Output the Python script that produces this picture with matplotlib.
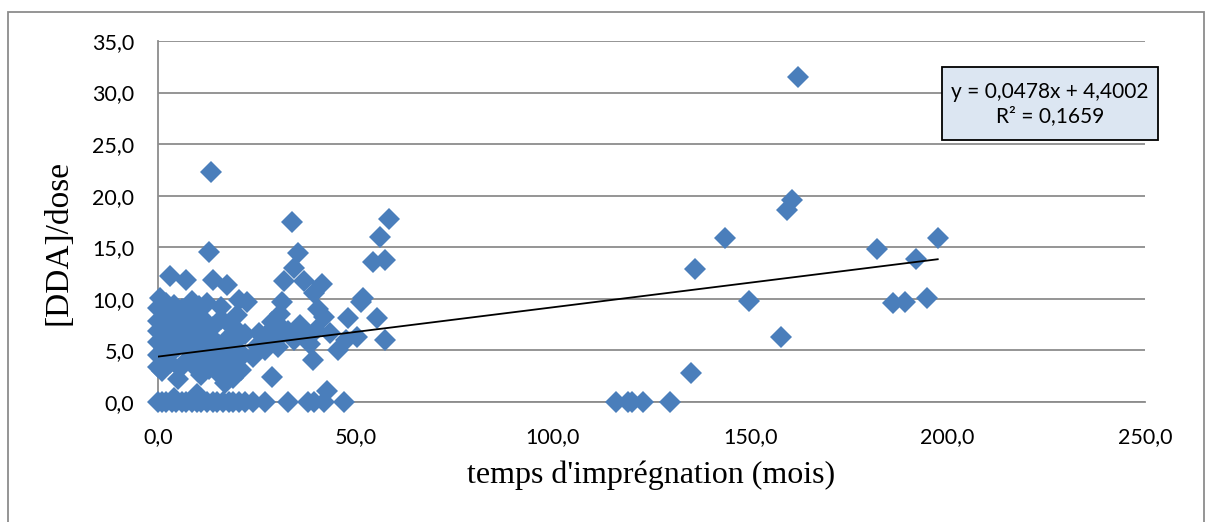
import matplotlib.pyplot as plt
import numpy as np
from matplotlib.patches import Rectangle

# temps d'imprégnation (mois) et [DDA]/dose
temps_mois = [
    0, 1, 2, 3.5, 4.5, 6, 7, 8.5, 10, 11, 12.5, 14, 15, 16.5, 18, 19, 20.5, 22, 24, 27,
    33, 38, 39.5, 42, 47, 42.8, 10, 4,
    0, 0, 0, 0, 0, 0, 0.5,
    1, 1.5, 1.5, 1.5, 1.5, 2, 3,
    3, 3.5, 3.5, 3, 3.5, 4,
    5, 5.5, 5, 5.5, 5.5, 6, 7,
    7, 7.5, 7.5, 8, 8, 8.5,
    9, 9.5, 9.5, 10, 10, 10.5,
    11, 11.5, 11.5, 12, 12, 12.5,
    13, 13.5, 14, 14, 14, 13, 13.5,
    15, 15.5, 15.5, 16, 16,
    17, 17.5, 17.5, 18, 18, 17.5,
    19, 19.5, 19.5, 20, 20, 20.5,
    21, 21.5, 22, 22.5,
    24, 25, 25.5,
    27, 28, 28.5, 29, 29,
    30.5, 31, 31.5, 31, 31.5, 32, 34.5, 34, 35.5,
    33, 34.5, 36, 37, 39.5, 41.5, 40.5, 42, 48, 55.5,
    43.5, 50.5, 57.5, 47.5, 45.5, 39.3,
    52, 51.5, 54.5, 57.5, 56.3, 58.6,
    37, 38.5, 40,
    162.2, 160.6, 159.2, 143.6, 136.0, 149.8, 157.9, 134.9,
    115.9, 119.1, 120.1, 122.9, 129.6,
    182.0, 192.1, 197.5, 186.1, 189.1, 194.7,
]
dda_dose = [
    0, 0, 0, 0, 0, 0, 0, 0, 0, 0, 0, 0, 0, 0, 0, 0, 0, 0, 0, 0,
    0, 0, 0, 0, 0, 1.1, 0.8, 0.4,
    3.4, 4.6, 5.8, 6.9, 7.9, 9.1, 10.1,
    3.0, 5.2, 6.4, 7.4, 8.6, 9.6, 12.2,
    3.8, 4.8, 6.0, 7.2, 8.3, 9.4,
    2.2, 3.3, 5.4, 6.6, 7.7, 9.0, 11.8,
    4.0, 5.1, 6.3, 7.4, 8.7, 9.8,
    3.5, 4.6, 5.8, 7.0, 8.1, 9.3,
    2.6, 4.2, 5.6, 6.8, 7.9, 9.6,
    3.2, 4.8, 6.1, 7.3, 11.8, 14.5, 22.3,
    2.9, 4.3, 5.5, 8.0, 9.2,
    1.8, 3.6, 5.1, 6.3, 7.6, 11.3,
    2.3, 4.0, 5.8, 7.0, 8.4, 9.9,
    3.1, 4.6, 6.6, 9.7,
    4.4, 5.4, 6.7,
    5.0, 6.1, 7.0, 7.8, 2.4,
    5.3, 6.4, 7.2, 8.5, 9.7, 11.7, 13.0, 17.5, 14.4,
    6.9, 6.0, 7.5, 11.7, 10.6, 11.4, 9.0, 8.2, 8.1, 8.1,
    6.7, 6.3, 6.0, 6.0, 5.0, 4.1,
    10.1, 9.7, 13.6, 13.8, 16.0, 17.7,
    6.3, 5.6, 7.0,
    31.5, 19.6, 18.6, 15.9, 12.9, 9.8, 6.3, 2.8,
    0, 0, 0, 0, 0,
    14.8, 13.9, 15.9, 9.6, 9.7, 10.1,
]

# courbe de tendance (Excel)
pente = 0.0478
ordonnee = 4.4002
equation = "y = 0,0478x + 4,4002\nR² = 0,1659"

x_ticks = [0, 50, 100, 150, 200, 250]
y_ticks = [0, 5, 10, 15, 20, 25, 30, 35]

fig = plt.figure(figsize=(12.06, 5.22), dpi=100)
ax = fig.add_axes([158/1206, 1 - 402/522, (1145-158)/1206, (402-41)/522])

ax.set_xlim(0, 250)
ax.set_ylim(0, 35)
ax.set_xticks(x_ticks)
ax.set_yticks(y_ticks)
ax.set_xticklabels([f"{t:.1f}".replace(".", ",") for t in x_ticks])
ax.set_yticklabels([f"{t:.1f}".replace(".", ",") for t in y_ticks])
ax.tick_params(length=0, labelsize=15.5)
ax.tick_params(axis="y", pad=17)
ax.tick_params(axis="x", pad=18)
for lab in ax.get_xticklabels() + ax.get_yticklabels():
    lab.set_family("Lato")

ax.yaxis.grid(True, color="#8c8c8c", lw=1.3)
ax.set_axisbelow(True)
for s in ["top", "right"]:
    ax.spines[s].set_visible(False)
ax.spines["left"].set_color("#8c8c8c")
ax.spines["bottom"].set_color("#8c8c8c")
ax.spines["left"].set_linewidth(1.3)
ax.spines["bottom"].set_linewidth(1.3)

ax.plot(temps_mois, dda_dose, linestyle="none", marker="D", markersize=11,
        color="#4a7ebb", markeredgewidth=0, clip_on=False, zorder=3)

xt = np.array([0, max(temps_mois)])
ax.plot(xt, pente * xt + ordonnee, color="black", lw=1.3, zorder=4)

fig.text(651/1206, 1 - 475/522, "temps d'imprégnation (mois)", family="Liberation Serif",
         fontsize=23, ha="center", va="center")
fig.text(58/1206, 1 - 243/522, "[DDA]/dose", family="Liberation Serif",
         fontsize=24, ha="center", va="center", rotation=90)

# boite de l'equation
fig.patches.append(Rectangle((942/1206, 1 - 140/522), (1158-942)/1206, (140-67)/522,
                             transform=fig.transFigure, facecolor="#dce6f2",
                             edgecolor="black", lw=1.3, zorder=5))
fig.text(1050/1206, 1 - 104/522, equation, family="Lato", fontsize=15,
         ha="center", va="center", linespacing=1.3, zorder=6)

# cadre du graphique
fig.patches.append(Rectangle((8/1206, -0.01), (1204-8)/1206, 1 - 12/522 + 0.01,
                             transform=fig.transFigure, facecolor="none",
                             edgecolor="#8c8c8c", lw=1.3))

plt.savefig("out.png", dpi=100)
